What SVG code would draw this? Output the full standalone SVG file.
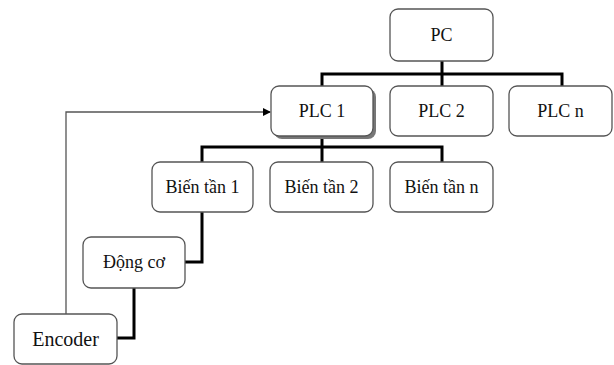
<svg xmlns="http://www.w3.org/2000/svg" width="614" height="365" viewBox="0 0 614 365">
<defs>
<style>
.box{fill:#fff;stroke:#555;stroke-width:1.3}
.t{font-family:"Liberation Serif","Times New Roman",serif;font-size:18px;fill:#111;text-anchor:middle}
.bus{fill:none;stroke:#000;stroke-width:3}
.thin{fill:none;stroke:#555;stroke-width:1.3}
</style>
<marker id="arr" markerWidth="8" markerHeight="8" refX="7" refY="4" orient="auto" markerUnits="userSpaceOnUse">
<path d="M0,0 L8,4 L0,8 Z" fill="#000"/>
</marker>
</defs>
<rect width="614" height="365" fill="#fff"/>
<g id="connectors">
<path class="bus" d="M442,61 V74 M322,86 V74 H562 V86 M442,74 V86"/>
<path class="bus" d="M322,137 V147 M202,162 V147 H442 V162 M322,147 V162"/>
<path class="bus" d="M202,212 V262 H185"/>
<path class="bus" d="M134,288 V338 H117"/>
<path class="thin" d="M66,314 V112 H270" marker-end="url(#arr)"/>
</g>
<g id="pc"><rect class="box" x="390" y="9" width="103" height="52" rx="8"/><text class="t" x="441.5" y="41">PC</text></g>
<g id="plc1"><rect x="274" y="89" width="102" height="50" rx="8" fill="#777"/><rect class="box" x="271" y="86" width="102" height="50" rx="8"/><text class="t" x="322" y="117">PLC 1</text></g>
<g id="plc2"><rect class="box" x="390" y="86" width="103" height="50" rx="8"/><text class="t" x="441.5" y="117">PLC 2</text></g>
<g id="plcn"><rect class="box" x="509" y="86" width="103" height="50" rx="8"/><text class="t" x="560.5" y="117">PLC n</text></g>
<g id="bt1"><rect class="box" x="152" y="162" width="101" height="50" rx="8"/><text class="t" x="202.5" y="193">Biến tần 1</text></g>
<g id="bt2"><rect class="box" x="270" y="162" width="103" height="50" rx="8"/><text class="t" x="321.5" y="193">Biến tần 2</text></g>
<g id="btn"><rect class="box" x="390" y="162" width="103" height="50" rx="8"/><text class="t" x="441.5" y="193">Biến tần n</text></g>
<g id="dongco"><rect class="box" x="83" y="237" width="102" height="51" rx="8"/><text class="t" x="134" y="268">Động cơ</text></g>
<g id="encoder"><rect class="box" x="14" y="314" width="103" height="50" rx="8"/><text class="t" x="65.5" y="346" style="font-size:20px">Encoder</text></g>
</svg>
